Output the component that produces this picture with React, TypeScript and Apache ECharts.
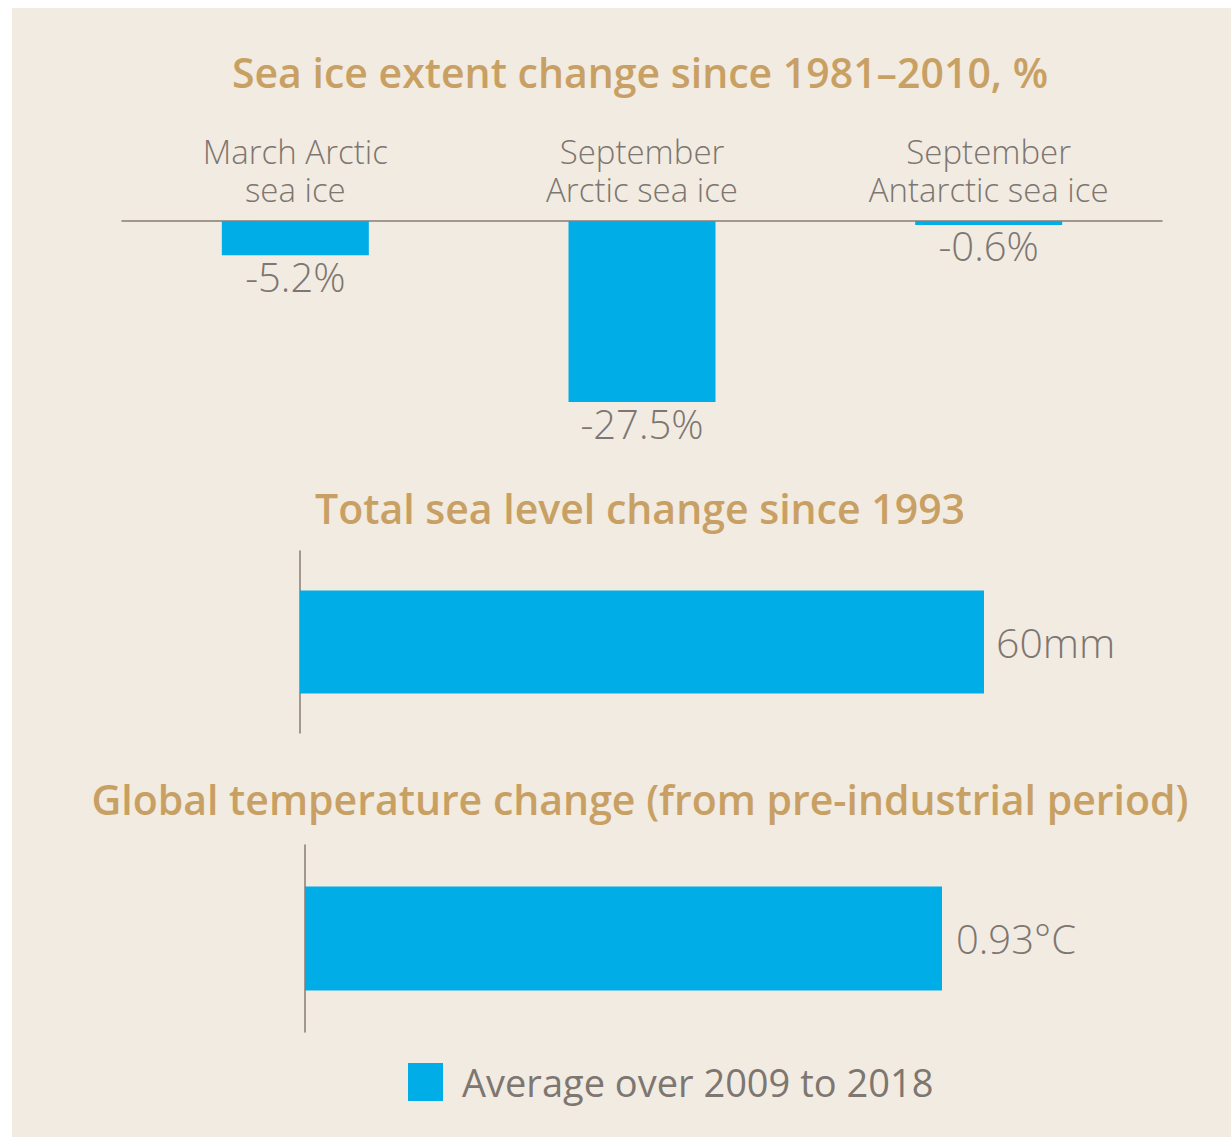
import React, { useEffect, useRef } from "react";
import * as echarts from "echarts";

const iceCategories = ["March Arctic\nsea ice", "September\nArctic sea ice", "September\nAntarctic sea ice"];
const iceValues = [-5.2, -27.5, -0.6];
const seaLevelValues = [60];
const tempValues = [0.93];
const legendName = "Average over 2009 to 2018";
const titles = [
  "Sea ice extent change since 1981–2010, %",
  "Total sea level change since 1993",
  "Global temperature change (from pre-industrial period)",
];

const BLUE = "#00ade6";
const GOLD = "#c8a063";
const GRAY = "#7d7671";
const AXIS = "#857d76";
const FONT = "'Open Sans', 'Noto Sans', sans-serif";

export default function App() {
  const ref = useRef<HTMLDivElement>(null);
  useEffect(() => {
    if (!ref.current) return;
    const chart = echarts.init(ref.current, null, { renderer: "svg" });
    const titleStyle = { color: GOLD, fontSize: 41, fontWeight: 600, fontFamily: FONT };
    chart.setOption({
      animation: false,
      backgroundColor: "#ffffff",
      graphic: [
        { type: "rect", left: 12, top: 8, shape: { width: 1219, height: 1129 }, style: { fill: "#f2ebe1" }, z: -10 },
      ],
      title: [
        { text: titles[0], left: 640, textAlign: "center", top: 51, padding: 0, textStyle: titleStyle },
        { text: titles[1], left: 640, textAlign: "center", top: 487, padding: 0, textStyle: titleStyle },
        { text: titles[2], left: 640, textAlign: "center", top: 778, padding: 0, textStyle: titleStyle },
      ],
      legend: {
        data: [legendName],
        left: 408,
        top: 1063,
        icon: "rect",
        itemWidth: 35,
        itemHeight: 38,
        selectedMode: false,
        padding: 0,
        textStyle: { color: GRAY, fontSize: 38, fontFamily: FONT, padding: [0, 0, 0, 14] },
      },
      grid: [
        { left: 122, top: 221, width: 1040, height: 181 },
        { left: 300, top: 551, width: 684, height: 182 },
        { left: 305, top: 845, width: 637, height: 187 },
      ],
      xAxis: [
        {
          gridIndex: 0,
          type: "category",
          position: "top",
          data: iceCategories,
          axisLine: { lineStyle: { color: AXIS, width: 1.5 } },
          axisTick: { show: false },
          axisLabel: { color: GRAY, fontSize: 33, lineHeight: 38, fontWeight: 300, fontFamily: FONT, margin: 13 },
        },
        { gridIndex: 1, type: "value", min: 0, max: 60, show: false },
        { gridIndex: 2, type: "value", min: 0, max: 0.93, show: false },
      ],
      yAxis: [
        { gridIndex: 0, type: "value", min: -27.5, max: 0, show: false, splitLine: { show: false } },
        {
          gridIndex: 1,
          type: "category",
          data: [""],
          axisLine: { lineStyle: { color: AXIS, width: 1.5 } },
          axisTick: { show: false },
          axisLabel: { show: false },
        },
        {
          gridIndex: 2,
          type: "category",
          data: [""],
          axisLine: { lineStyle: { color: AXIS, width: 1.5 } },
          axisTick: { show: false },
          axisLabel: { show: false },
        },
      ],
      series: [
        {
          name: legendName,
          type: "bar",
          xAxisIndex: 0,
          yAxisIndex: 0,
          data: iceValues,
          barWidth: 147,
          itemStyle: { color: BLUE },
          label: {
            show: true,
            position: "outside",
            distance: 1,
            formatter: (p: any) => `${p.value}%`,
            color: GRAY,
            fontSize: 40,
            fontWeight: 300,
            fontFamily: FONT,
          },
        },
        {
          name: legendName,
          type: "bar",
          xAxisIndex: 1,
          yAxisIndex: 1,
          data: seaLevelValues,
          barWidth: 103,
          itemStyle: { color: BLUE },
          label: {
            show: true,
            position: "right",
            distance: 12,
            formatter: (p: any) => `${p.value}mm`,
            color: GRAY,
            fontSize: 41,
            fontWeight: 300,
            fontFamily: FONT,
          },
        },
        {
          name: legendName,
          type: "bar",
          xAxisIndex: 2,
          yAxisIndex: 2,
          data: tempValues,
          barWidth: 104,
          itemStyle: { color: BLUE },
          label: {
            show: true,
            position: "right",
            distance: 14,
            formatter: (p: any) => `${p.value}°C`,
            color: GRAY,
            fontSize: 40,
            fontWeight: 300,
            fontFamily: FONT,
          },
        },
      ],
    });
    return () => chart.dispose();
  }, []);
  return (
    <div
      ref={ref}
      style={{ position: "absolute", left: 0, top: 0, width: 1231, height: 1137 }}
    />
  );
}
